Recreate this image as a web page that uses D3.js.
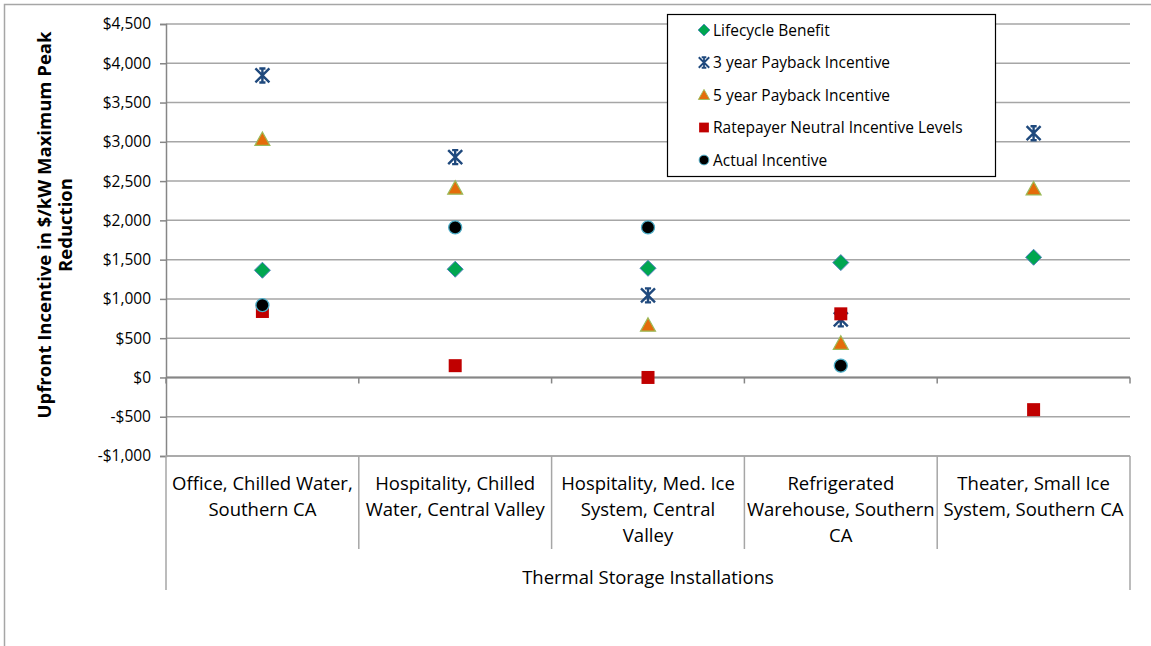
<!DOCTYPE html>
<html><head><meta charset="utf-8">
<script src="https://cdn.jsdelivr.net/npm/d3@7"></script>
<style>body{margin:0;background:#fff}svg{display:block;font-family:"Open Sans","Noto Sans",sans-serif}</style>
</head><body><svg id="c" width="1151" height="646"></svg>
<script>
const categories = [
  ["Office, Chilled Water,", "Southern CA"],
  ["Hospitality, Chilled", "Water, Central Valley"],
  ["Hospitality, Med. Ice", "System, Central", "Valley"],
  ["Refrigerated", "Warehouse, Southern", "CA"],
  ["Theater, Small Ice", "System, Southern CA"]
];
const seriesNames = ["Lifecycle Benefit","3 year Payback Incentive","5 year Payback Incentive","Ratepayer Neutral Incentive Levels","Actual Incentive"];
const lifecycle = [1365, 1378, 1390, 1462, 1530];
const payback3 = [3845, 2805, 1045, 740, 3110];
const payback5 = [3030, 2410, 665, 435, 2400];
const ratepayer = [840, 150, 0, 810, -410];
const actual = [920, 1910, 1910, 150, null];
const yTicks = [-1000,-500,0,500,1000,1500,2000,2500,3000,3500,4000,4500];
const axisTitle = ["Upfront Incentive in $/kW Maximum Peak", "Reduction"];
const groupTitle = "Thermal Storage Installations";

const svg = d3.select("#c");
const L = 166, R = 1130, T = 24, B = 456;
const y = d3.scaleLinear().domain([-1000, 4500]).range([B, T]);
const x = d3.scaleBand().domain(d3.range(categories.length)).range([L, R]);

// outer frame
svg.append("path").attr("d","M4.5,646V4.5H1151").attr("fill","none").attr("stroke","#a6a6a6").attr("stroke-width",1.5);

// gridlines
svg.append("g").selectAll("line").data(yTicks).join("line")
  .attr("x1", L).attr("x2", R).attr("y1", d=>y(d)).attr("y2", d=>y(d))
  .attr("stroke","#a6a6a6").attr("stroke-width",1.5);

// y axis
const ya = svg.append("g").attr("transform",`translate(${L},0)`)
  .call(d3.axisLeft(y).tickValues(yTicks).tickSize(6).tickFormat(d => (d<0?"-":"") + "$" + d3.format(",")(Math.abs(d))));
ya.select(".domain").attr("stroke","#868686").attr("stroke-width",1.5);
ya.selectAll(".tick line").attr("stroke","#868686").attr("stroke-width",1.5);
ya.selectAll(".tick text").attr("font-size",15.5).attr("fill","#000").attr("x",-15).attr("font-family","'Open Sans',sans-serif");

// zero axis
svg.append("line").attr("x1",L).attr("x2",R).attr("y1",y(0)).attr("y2",y(0)).attr("stroke","#868686").attr("stroke-width",2);
const bounds = d3.range(categories.length+1).map(i => L + i*x.bandwidth());
svg.append("g").selectAll("line").data(bounds).join("line")
  .attr("x1",d=>d).attr("x2",d=>d).attr("y1",y(0)).attr("y2",y(0)+6)
  .attr("stroke","#868686").attr("stroke-width",1.5);

// bottom category axis
svg.append("line").attr("x1",L).attr("x2",R).attr("y1",B).attr("y2",B).attr("stroke","#a6a6a6").attr("stroke-width",1.5);
svg.append("g").selectAll("line").data(bounds).join("line")
  .attr("x1",d=>d).attr("x2",d=>d).attr("y1",B).attr("y2",(d,i)=> (i===0||i===categories.length)?590:549)
  .attr("stroke","#a6a6a6").attr("stroke-width",1.5);

const catG = svg.append("g");
categories.forEach((lines,i)=>{
  const t = catG.append("text").attr("text-anchor","middle").attr("font-size",18.5).attr("fill","#000");
  lines.forEach((ln,j)=> t.append("tspan").attr("x", x(i)+x.bandwidth()/2).attr("y", 490 + j*26).text(ln));
});
svg.append("text").attr("x",(L+R)/2).attr("y",584).attr("text-anchor","middle").attr("font-size",18.5).text(groupTitle);

// y title
const yt = svg.append("text").attr("transform","translate(0,225) rotate(-90)").attr("text-anchor","middle")
  .attr("font-size",18.5).attr("font-weight","bold");
axisTitle.forEach((ln,j)=> yt.append("tspan").attr("x",0).attr("y", 51 + j*21).text(ln));

// markers
function starPath(s){
  const h=s/2, c=s*0.22;
  return `M${-h},${-h}L${h},${h}M${-h},${h}L${h},${-h}M0,${-h}V${h}M${-c},${-h}H${c}M${-c},${h}H${c}`;
}
const markers = [
  {data: lifecycle, draw: g => g.append("path").attr("d","M0,-8L8,0L0,8L-8,0Z").attr("fill","#00a650").attr("stroke","#4f81bd").attr("stroke-width",1)},
  {data: payback3, draw: g => g.append("path").attr("d",starPath(14)).attr("fill","none").attr("stroke","#1f497d").attr("stroke-width",2.4)},
  {data: payback5, draw: g => g.append("path").attr("d","M0,-7.5L7.5,6L-7.5,6Z").attr("fill","#e46c0a").attr("stroke","#9bbb59").attr("stroke-width",1.2)},
  {data: ratepayer, draw: g => g.append("rect").attr("x",-6.5).attr("y",-6.5).attr("width",13).attr("height",13).attr("fill","#c00000")},
  {data: actual, draw: g => g.append("circle").attr("r",6.5).attr("fill","#000").attr("stroke","#4bacc6").attr("stroke-width",1.3)}
];
const order = [1,2,0,3,4];
order.forEach(k=>{
  const m = markers[k];
  m.data.forEach((v,i)=>{
    if(v==null) return;
    const g = svg.append("g").attr("transform",`translate(${x(i)+x.bandwidth()/2},${y(v)})`);
    m.draw(g);
  });
});

// legend
const lg = svg.append("g");
lg.append("rect").attr("x",667.5).attr("y",14.5).attr("width",328).attr("height",162).attr("fill","#fff").attr("stroke","#000").attr("stroke-width",1.2);
seriesNames.forEach((n,i)=>{
  const yy = 30 + i*32.5;
  const g = lg.append("g").attr("transform",`translate(704,${yy}) scale(0.75)`);
  markers[i].draw(g);
  lg.append("text").attr("x",713).attr("y",yy+5.5).attr("font-size",15.5).text(n);
});
</script></body></html>
